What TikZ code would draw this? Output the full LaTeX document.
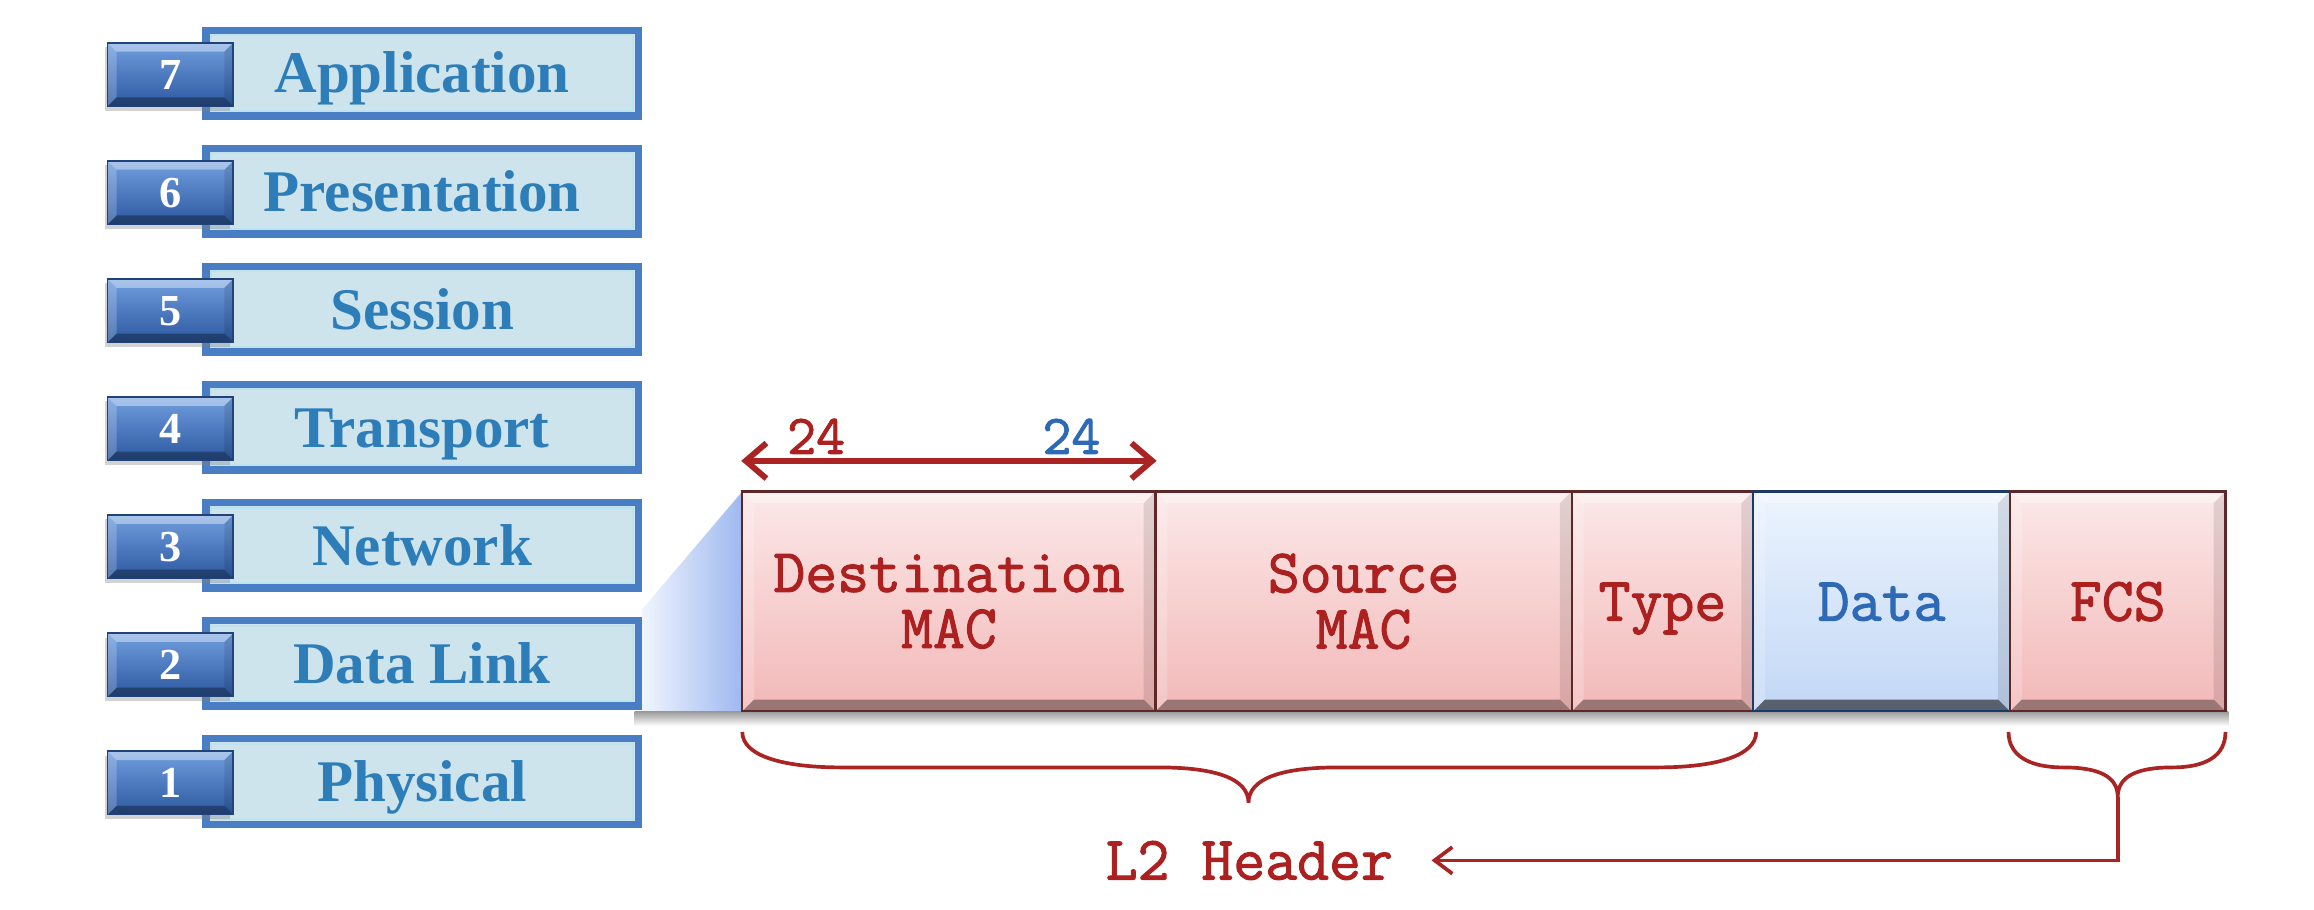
\documentclass[tikz,border=0pt]{standalone}
\usepackage{fontspec}
\setmainfont{Liberation Serif}
\newfontfamily\courf{Latin Modern Mono}[FakeBold=1.6]
\usetikzlibrary{arrows.meta,shadows}
\definecolor{layerblue}{RGB}{74,126,196}
\definecolor{layerfill}{RGB}{205,228,236}
\definecolor{layerlight}{RGB}{190,226,238}
\definecolor{layertext}{RGB}{45,125,185}
\definecolor{numtop}{RGB}{112,158,222}
\definecolor{numbot}{RGB}{44,88,160}
\definecolor{numdraw}{RGB}{34,66,122}
\definecolor{pinktop}{RGB}{252,232,232}
\definecolor{pinkbot}{RGB}{242,184,184}
\definecolor{pinkdraw}{RGB}{95,40,40}
\definecolor{bluetop}{RGB}{236,244,254}
\definecolor{bluebot}{RGB}{194,215,245}
\definecolor{bluedraw}{RGB}{30,56,104}
\definecolor{redtxt}{RGB}{172,32,32}
\definecolor{redline}{RGB}{170,36,36}
\definecolor{bluetxt}{RGB}{45,105,180}
\definecolor{trapL}{RGB}{240,245,254}
\definecolor{trapR}{RGB}{158,184,240}
\tikzset{
  bevel/.style 2 args={path picture={
    \fill[white,opacity=0.40] (path picture bounding box.north west) -- (path picture bounding box.north east)
      -- ([xshift=-#1,yshift=-#1]path picture bounding box.north east) -- ([xshift=#1,yshift=-#1]path picture bounding box.north west) -- cycle;
    \fill[white,opacity=0.20] (path picture bounding box.north west) -- ([xshift=#1,yshift=-#1]path picture bounding box.north west)
      -- ([xshift=#1,yshift=#1]path picture bounding box.south west) -- (path picture bounding box.south west) -- cycle;
    \fill[black,opacity=0.10] (path picture bounding box.north east) -- ([xshift=-#1,yshift=-#1]path picture bounding box.north east)
      -- ([xshift=-#1,yshift=#1]path picture bounding box.south east) -- (path picture bounding box.south east) -- cycle;
    \fill[black,opacity=#2] (path picture bounding box.south west) -- (path picture bounding box.south east)
      -- ([xshift=-#1,yshift=#1]path picture bounding box.south east) -- ([xshift=#1,yshift=#1]path picture bounding box.south west) -- cycle;
  }},
  layerbox/.style={draw=layerblue, line width=5pt, fill=layerfill, minimum width=293pt, minimum height=58pt,
    inner sep=0pt, text height=27pt, text depth=0pt, font=\fontsize{40}{44}\selectfont\bfseries, text=layertext,
    path picture={\draw[line width=1.4pt, layerlight] ([xshift=3.4pt,yshift=-3.4pt]path picture bounding box.north west)
      rectangle ([xshift=-3.4pt,yshift=3.4pt]path picture bounding box.south east);}},
  numbox/.style={minimum width=85pt, minimum height=43pt, inner sep=0pt, top color=numtop, bottom color=numbot,
    draw=numdraw, line width=1pt, text=white, font=\fontsize{30}{34}\selectfont\bfseries, text height=20pt, text depth=0pt,
    bevel={6pt}{0.32}, drop shadow={shadow xshift=-2pt, shadow yshift=-3pt, opacity=0.35}},
  field/.style={minimum height=149pt, inner sep=0pt, line width=1.5pt, font=\courf\fontsize{42}{38}\selectfont,
    align=center},
  pinkf/.style={field, top color=pinktop, bottom color=pinkbot, draw=pinkdraw, text=redtxt, bevel={8pt}{0.36}},
  bluef/.style={field, top color=bluetop, bottom color=bluebot, draw=bluedraw, text=bluetxt, bevel={8pt}{0.55}},
  monolbl/.style={font=\courf\fontsize{38}{40}\selectfont, inner sep=0pt, text height=23pt, text depth=0pt},
  redconn/.style={draw=redline, line width=2.5pt},
}
\begin{document}
\begin{tikzpicture}[x=1pt,y=-1pt]
\useasboundingbox[fill=white] (0,0) rectangle (1568,616.6);
% zoom trapezoid
\shade[left color=trapL, right color=trapR] (435,413) -- (503,333) -- (503,482) -- (435,482) -- cycle;
% shadow under frame
\shade[top color=black!40, bottom color=white] (430,482) rectangle (1510,492);
% OSI layers
\foreach \n/\t in {7/Application,6/Presentation,5/Session,4/Transport,3/Network,2/Data Link,1/Physical}{
  \node[layerbox] (L\n) at (286,{49.5+80*(7-\n)}) {\t};
  \node[numbox] (N\n) at (115.5,{50.5+80*(7-\n)}) {\n};
}
% frame fields
\node[pinkf, minimum width=280pt] (dst) at (643,407.5) {Destination\\MAC};
\node[pinkf, minimum width=282pt] (src) at (924,407.5) {Source\\MAC};
\node[pinkf, minimum width=123pt, text height=26pt, text depth=0pt] (typ) at (1126.5,407.5) {Type};
\node[bluef, minimum width=174pt, text height=26pt, text depth=0pt] (dat) at (1275,407.5) {Data};
\node[pinkf, minimum width=146pt, text height=26pt, text depth=0pt] (fcs) at (1435,407.5) {FCS};
% 24/24 arrow
\draw[draw=redline, line width=4pt, {Straight Barb[length=14pt,width=24pt]}-{Straight Barb[length=14pt,width=24pt]}]
  ([yshift=20pt]dst.north west) -- ([yshift=20pt]dst.north east);
\node[monolbl, text=redtxt] (na) at (553,296) {24};
\node[monolbl, text=bluetxt] (nb) at (726,296) {24};
% braces
\draw[redconn] (503,496) .. controls (503,512) and (530,520) .. (570,520) -- (785,520)
  .. controls (825,520) and (846,528) .. (846,544)
  .. controls (846,528) and (867,520) .. (907,520) -- (1123,520)
  .. controls (1163,520) and (1190,512) .. (1190,496);
\draw[redconn] (1361,496) .. controls (1361,512) and (1375,520) .. (1398,520)
  .. controls (1422,520) and (1435,526) .. (1435,540)
  .. controls (1435,526) and (1448,520) .. (1472,520)
  .. controls (1495,520) and (1508,512) .. (1508,496);
\coordinate (fcstip) at (1435,540);
% L2 header
\node[font=\courf\fontsize{42}{40}\selectfont, text=redtxt, inner sep=0pt, text height=26pt, text depth=0pt]
  (l2) at (846.5,583) {L2 Header};
\draw[redconn, -{Straight Barb[length=12pt,width=18pt]}] (fcstip) |- ([xshift=26pt]l2.east);
\end{tikzpicture}
\end{document}
